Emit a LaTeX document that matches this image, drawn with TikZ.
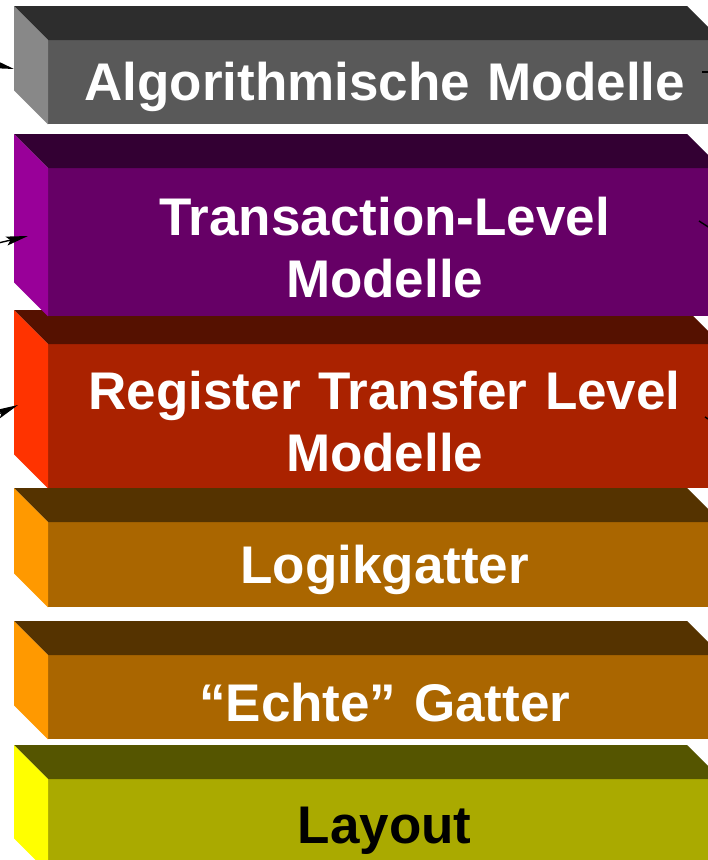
\documentclass[tikz,border=0pt]{standalone}
\usepackage{fontspec}
\setmainfont{Liberation Sans}
\usetikzlibrary{arrows.meta}

% one layer of the stack: front face as a node, top and side faces from its anchors,
% the caption as a node of its own slightly below the face centre
% #1 name, #2 top edge y, #3 bottom edge y, #4 side colour, #5 front colour, #6 top colour, #7 text colour, #8 text
\newcommand\layerbox[8]{%
  \node[front face, fill=#5, minimum height={(#3)-(#2)-34}, anchor=north west]
    (#1) at (48,#2+34) {};
  \fill[#6] (#1.north west) -- ++(-34,-34) -- ++(673,0) -- (#1.north east) -- cycle;
  \fill[#4] (#1.north west) -- ++(-34,-34) -- ([xshift=-34,yshift=34]#1.south west) -- (#1.south west) -- cycle;
  \node[caption, text=#7] (#1-text) at ([yshift=-5]#1.center) {#8};
}

\definecolor{grayS}{RGB}{136,136,136}
\definecolor{grayF}{RGB}{89,89,89}
\definecolor{grayT}{RGB}{45,45,45}
\definecolor{purS}{RGB}{153,0,153}
\definecolor{purF}{RGB}{102,0,102}
\definecolor{purT}{RGB}{51,0,51}
\definecolor{redS}{RGB}{255,51,0}
\definecolor{redF}{RGB}{170,34,0}
\definecolor{redT}{RGB}{85,17,0}
\definecolor{orS}{RGB}{255,153,0}
\definecolor{orF}{RGB}{170,102,0}
\definecolor{orT}{RGB}{85,51,0}
\definecolor{ylS}{RGB}{255,255,0}
\definecolor{ylF}{RGB}{170,170,0}
\definecolor{ylT}{RGB}{85,85,0}

\begin{document}
\begin{tikzpicture}[x=1pt,y=-1pt,
  front face/.style={inner sep=0pt, minimum width=673pt},
  caption/.style={inner sep=0pt, text width=660pt, align=center,
    font=\fontsize{53}{62}\selectfont\bfseries},
  pointer/.style={line width=1.4pt, -{Stealth[length=22pt,width=9pt,inset=4pt]}},
  tail/.style={line width=1.4pt}]
\useasboundingbox (0,0) rectangle (708,860);

% stack drawn bottom-up so that upper layers cover lower ones
\layerbox{layout}{745}{872}{ylS}{ylF}{ylT}{black}{Layout}
\layerbox{echt}{621}{739}{orS}{orF}{orT}{white}{“Echte” Gatter}
\layerbox{logik}{488}{607}{orS}{orF}{orT}{white}{Logikgatter}
\layerbox{rtl}{310}{488}{redS}{redF}{redT}{white}{Register Transfer Level\\Modelle}
\layerbox{tlm}{134}{316}{purS}{purF}{purT}{white}{Transaction-Level\\Modelle}
\layerbox{algo}{6}{124}{grayS}{grayF}{grayT}{white}{Algorithmische Modelle}

% connectors entering from the left
\coordinate (inA) at (-6,64);
\coordinate (inT) at (-6,244);
\coordinate (inR) at (-6,416);
\coordinate (tipA) at (14,69);
\coordinate (tipT) at (28,236);
\coordinate (tipR) at (18,405);
\draw[pointer] (inA) -- (tipA);
\draw[pointer] (inT) -- (tipT);
\draw[pointer] (inR) -- (tipR);

% connectors leaving to the right
\coordinate (outA0) at (702,72);
\coordinate (outA1) at (712,72);
\coordinate (outT0) at (699,221);
\coordinate (outT1) at (713,230);
\coordinate (outR0) at (705,417);
\coordinate (outR1) at (713,422);
\draw[tail] (outA0) -- (outA1);
\draw[tail] (outT0) -- (outT1);
\draw[tail] (outR0) -- (outR1);
\end{tikzpicture}
\end{document}
